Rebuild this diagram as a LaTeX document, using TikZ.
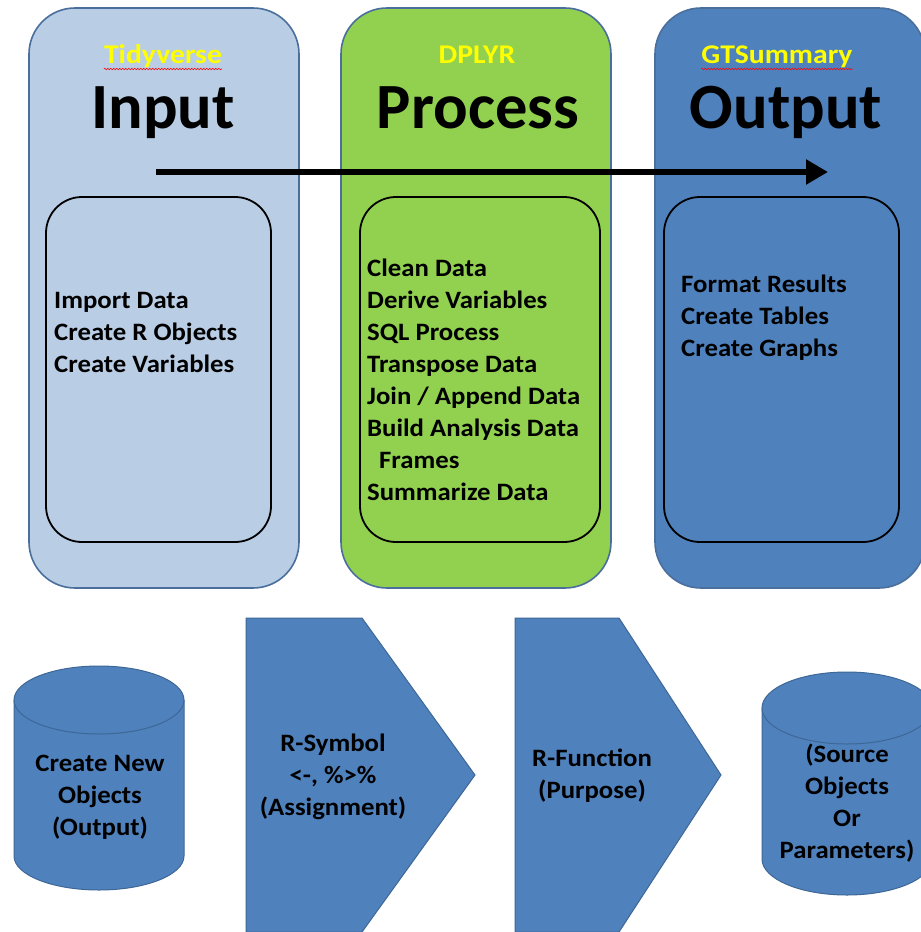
\documentclass[tikz,border=0pt]{standalone}
\usepackage{fontspec}
\setmainfont{Carlito}
\newfontfamily\widefont[FakeStretch=1.07]{Carlito}
\newfontfamily\toolfont[FakeStretch=1.1]{Carlito}
\usetikzlibrary{arrows.meta, positioning, decorations.pathmorphing}

\definecolor{inputblue}{HTML}{B9CDE5}
\definecolor{processgreen}{HTML}{92D050}
\definecolor{outputblue}{HTML}{4F81BD}
\definecolor{edgeblue}{HTML}{4A6F9C}
\definecolor{shapeedge}{HTML}{3E6796}
\definecolor{titleyellow}{HTML}{FFFF00}

\begin{document}
\begin{tikzpicture}[
    x=1pt, y=-1pt,
    column/.style={draw=edgeblue, line width=1.6pt, rounded corners=46pt, minimum width=270pt, minimum height=580pt},
    innerbox/.style={draw=black, line width=1.8pt, rounded corners=36pt, minimum height=345pt},
    tool/.style={text=titleyellow, inner sep=0pt, font=\toolfont\fontsize{27}{30}\selectfont\bfseries},
    stage/.style={inner sep=0pt, font=\fontsize{64.5}{70}\selectfont\bfseries},
    steps/.style={align=left, inner sep=0pt, font=\widefont\fontsize{25}{32}\selectfont\bfseries},
    caption/.style={align=center, inner sep=0pt, font=\widefont\fontsize{25}{32}\selectfont\bfseries},
    block/.style={fill=outputblue, draw=shapeedge, line width=1pt},
    flow/.style={-{Triangle[length=22pt, width=24pt]}, line width=5.5pt},
    typo/.style={draw=red, line width=0.6pt, decorate, decoration={snake, amplitude=0.7pt, segment length=3pt}}
]
\path[use as bounding box, fill=white] (0,0) rectangle (921,932);
\clip (0,0) rectangle (921,932);

% Stage columns
\node[column, fill=inputblue] (inputcol) at (164,298) {};
\node[column, fill=processgreen] (processcol) at (476,298) {};
\node[column, fill=outputblue] (outputcol) at (790,298) {};

% Inner boxes
\node[innerbox, minimum width=225pt] (inputbox) at (158.5,369.5) {};
\node[innerbox, minimum width=240pt] (processbox) at (480,369.5) {};
\node[innerbox, minimum width=235pt] (outputbox) at (781.5,369.5) {};

% Headings
\node[tool, anchor=base] (tidy) at (163,63) {Tidyverse};
\node[tool, anchor=base] (dplyr) at (477,63) {DPLYR};
\node[tool, anchor=base] (gts) at (777,63) {GTSummary};
\draw[typo] ([yshift=-6pt]tidy.base west) -- ([yshift=-6pt]tidy.base east);
\draw[typo] ([yshift=-6pt]gts.base west) -- ([yshift=-6pt]gts.base east);

\node[stage, anchor=base] (input) at (163,128) {Input};
\node[stage, anchor=base] (process) at (478,128) {Process};
\node[stage, anchor=base] (output) at (786,128) {Output};

% Flow arrow
\coordinate (flowstart) at (156,172);
\coordinate (flowend) at (828,172);
\draw[flow] (flowstart) -- (flowend);

% Step lists
\node[steps, anchor=west] (inputsteps) at (54,332) {Import Data\\Create R Objects\\Create Variables};
\node[steps, anchor=west] (processsteps) at (367,380) {Clean Data\\Derive Variables\\SQL Process\\Transpose Data\\Join / Append Data\\Build Analysis Data\\\hspace*{12pt}Frames\\Summarize Data};
\node[steps, anchor=west] (outputsteps) at (681,318) {Format Results\\Create Tables\\Create Graphs};

% Legend shapes
\draw[block] (14,700) -- (14,856) arc[start angle=180, end angle=360, x radius=85pt, y radius=34pt]
  -- (184,700) arc[start angle=0, end angle=180, x radius=85pt, y radius=34pt] -- cycle;
\draw[block] (184,700) arc[start angle=0, end angle=-180, x radius=85pt, y radius=34pt];

\draw[block] (246,618) -- (362,618) -- (475,775) -- (362,932) -- (246,932) -- cycle;
\draw[block] (515,618) -- (619,618) -- (721,775) -- (619,932) -- (515,932) -- cycle;

\draw[block] (762,708) -- (762,859) arc[start angle=180, end angle=360, x radius=85pt, y radius=36pt]
  -- (932,708) arc[start angle=0, end angle=180, x radius=85pt, y radius=36pt] -- cycle;
\draw[block] (932,708) arc[start angle=0, end angle=-180, x radius=85pt, y radius=36pt];

% Legend captions
\node[caption] (newobj) at (100,797) {Create New\\Objects\\(Output)};
\node[caption] (symbol) at (333,777) {R-Symbol\\<-, \%>\%\\(Assignment)};
\node[caption] (function) at (592,776) {R-Function\\(Purpose)};
\node[caption] (source) at (847,803) {(Source\\Objects\\Or\\Parameters)};

\end{tikzpicture}
\end{document}
